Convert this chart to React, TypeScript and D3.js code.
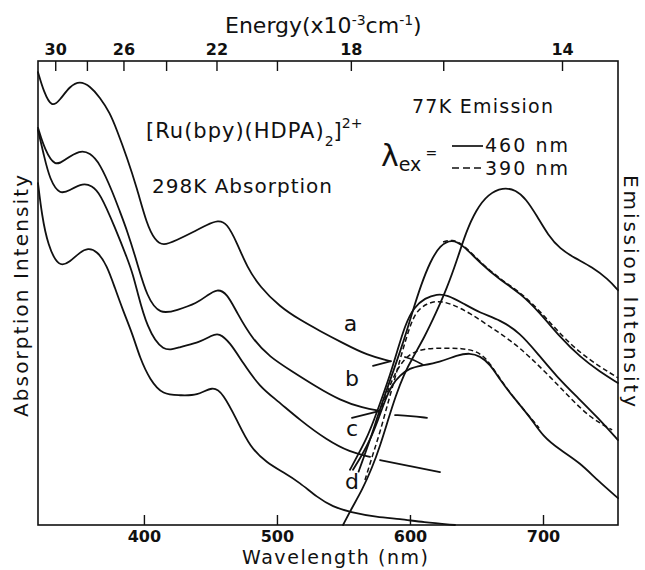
import * as d3 from 'd3';
import { useEffect, useRef } from 'react';

const width = 645;
const height = 570;
const margin = { top: 61, right: 27, bottom: 45, left: 38 };
const ink = '#111';
const fontFamily = '"DejaVu Sans", sans-serif';

const wavelengthTicks = [400, 500, 600, 700];
const energyTicks = [30, 28, 26, 24, 22, 20, 18, 16, 14];
const energyLabels = [30, 26, 22, 18, 14];

// 298 K absorption, [wavelength nm, intensity a.u.]
const absA = [[320, 97.6], [324.4, 93.3], [330.4, 89.9], [336.5, 91.6], [344, 94.6], [351.5, 95.7], [359, 94.6], [366.5, 92.2], [374.1, 88.8], [379.3, 85.1], [386.8, 79.3], [394.4, 72.6], [401.9, 64.7], [407.9, 61.4], [413.9, 60.1], [424.4, 61.4], [436.5, 63.1], [447, 64.7], [455.3, 65.7], [462, 65.1], [469.6, 60.8], [477.1, 55.6], [486.9, 51.3], [501.9, 47.0], [517, 44.2], [532, 41.8], [549.3, 39.2], [567.3, 36.6], [584.6, 35.3]];
const absAHook = [[571.8, 34.3], [585.4, 35.3]];
const absAStub = [[595.9, 36.2], [602.7, 35.6], [609.4, 34.5]];

const absB = [[320, 85.6], [325.2, 80.8], [332.7, 77.2], [340.2, 78.7], [351.5, 80.8], [359, 80.2], [366.5, 78], [376.3, 71.6], [381.6, 67.5], [386.8, 63.6], [394.4, 56.7], [401.9, 49.1], [411.7, 45.3], [424.4, 46.3], [439.5, 47.8], [447.8, 49.6], [454.5, 50.9], [462, 50], [469.6, 45.7], [481.6, 39.9], [494.4, 36.2], [509.4, 33.4], [529.7, 29.7], [547, 26.9], [564.3, 25.2], [577.1, 24.6]];
const absBHook = [[556, 23.1], [577.1, 24.6]];
const absBStub = [[588.4, 23.7], [600, 23.5], [612.4, 23.1]];

const absC = [[320, 85.1], [324.4, 79.7], [328.9, 74.4], [336.5, 71.1], [344, 72.2], [353.8, 73.7], [360.5, 73.1], [366.5, 71.6], [377.8, 64.2], [387.6, 57.1], [391.4, 53.9], [394.4, 50.6], [401.9, 42.5], [413.9, 37.1], [426.7, 38.4], [441.7, 39.4], [450.8, 40.9], [456, 41.4], [464.3, 39.4], [474.1, 34.9], [486.9, 29.7], [499.6, 26.9], [516.9, 22.6], [537.2, 18.3], [554.5, 15.7], [569.6, 14.7]];
const absCStub = [[577.1, 14.0], [599.6, 12.7], [622.2, 11.4]];

const absD = [[320, 73.7], [322.9, 66.8], [327.4, 60.3], [335.7, 55.4], [344, 56.7], [351.5, 58.8], [357.5, 59.7], [364.3, 59.1], [371.8, 56], [377.8, 51.1], [383.8, 46.3], [391.4, 40.9], [396.6, 36], [404.1, 31.3], [413.9, 28], [426.7, 28], [439.5, 27.8], [451.5, 30], [459, 28.4], [469.6, 22.6], [479.3, 16.8], [492.1, 13.4], [504.2, 11.4], [516.9, 9.1], [529.7, 6], [541.7, 3.9], [554.5, 2.8], [574.8, 1.7], [592.1, 1.3], [609.4, 0.6], [633.5, 0]];

// 77 K emission, solid = 460 nm excitation, dashed = 390 nm excitation
const em1Solid = [[549.3, 0], [556, 3.7], [563.6, 7.5], [571.1, 12.3], [577.1, 17.0], [583.1, 22.6], [589.1, 28.0], [595.1, 32.5], [601.9, 36.2], [610.2, 40.3], [619.2, 45.7], [627.5, 51.1], [635, 57.1], [641.7, 63.1], [649.3, 67.9], [658.3, 71.3], [669.5, 72.8], [679.3, 72.2], [686.8, 70.3], [695.1, 66.6], [703.4, 62.5], [712.4, 59.5], [723.7, 57.5], [736.5, 55.6], [748.5, 53], [756, 50.6]];

const em2Solid = [[561, 11.5], [563.6, 13.6], [569.6, 18.3], [575.6, 23.7], [581.6, 28.7], [586.9, 33], [592.1, 37.3], [597.4, 42], [601.9, 46.3], [607.9, 51.7], [614.7, 56.7], [622.2, 60.3], [631.2, 61.6], [639.5, 60.3], [652.3, 56.5], [667.3, 52.8], [682.4, 50], [697.4, 45.7], [712.4, 40.5], [727.5, 36.2], [742.5, 33], [756, 30.6]];
const em2Dash = [[624.5, 61], [631.2, 61.6], [639.5, 60.5], [652.3, 56.7], [667.3, 53], [682.4, 50.2], [697.4, 46.1], [712.4, 41.2], [727.5, 37.1], [742.5, 34.1], [756, 31.7]];

const em3Solid = [[554.5, 11.9], [560.5, 15.1], [566.5, 18.3], [572.6, 22.6], [578.6, 27.4], [584.6, 32.3], [589.9, 37.3], [595.9, 43.1], [602.7, 47], [610.9, 48.9], [620, 49.8], [627.5, 49.6], [639.5, 47.8], [652.3, 45.7], [667.3, 44.2], [682.4, 41.4], [695.1, 37.1], [710.2, 31.9], [725.2, 27.6], [740.3, 23.3], [756, 18.3]];
const em3Dash = [[565.8, 9.7], [568.5, 12.2], [572.6, 16.0], [577.1, 20.0], [581.6, 24.8], [586.9, 30.2], [592.1, 35.6], [597.4, 40.9], [603.4, 45.9], [612.4, 47.8], [620.7, 48.3], [629.7, 47.8], [644.8, 45.7], [659.8, 42.7], [674.9, 39.9], [689.9, 36.2], [705, 31.9], [720, 27.4], [735.1, 23.1], [751.6, 20.5]];

const em4Solid = [[556.8, 11.9], [563.6, 15.1], [569.6, 18.3], [575.6, 22.6], [580.9, 26.9], [586.1, 30.2], [592.1, 32.3], [599.6, 33.8], [607.2, 34.3], [622.2, 35.1], [635, 36.6], [644.8, 37.1], [652.3, 36.4], [659.8, 34.7], [667.3, 31.3], [677.1, 27.6], [689.9, 23.3], [699.7, 19], [712.4, 16.2], [727.5, 13.4], [740.3, 9.7], [756, 5.8]];
const em4Dash = [[576.3, 23.7], [582.4, 28.4], [587.6, 32.3], [593.6, 35.1], [600.4, 37.1], [611.6, 38.1], [625.2, 38.1], [638.7, 38.1], [649.3, 37.5], [656.8, 36], [664.4, 32.8], [674.1, 28.7], [685.4, 24.8], [696.7, 20.9]];

const solidCurves = [absA, absAHook, absAStub, absB, absBHook, absBStub, absC, absCStub, absD, em1Solid, em2Solid, em3Solid, em4Solid];
const dashedCurves = [em2Dash, em3Dash, em4Dash];

const curveLabels = [
  { text: 'a', nm: 555, value: 43.1 },
  { text: 'b', nm: 556, value: 31.3 },
  { text: 'c', nm: 556, value: 20.5 },
  { text: 'd', nm: 556, value: 9.1 },
];

const App = () => {
  const svgRef = useRef<SVGSVGElement | null>(null);

  useEffect(() => {
    if (!svgRef.current) return;
    const svg = d3.select(svgRef.current);
    svg.selectAll('*').remove();

    const x = d3.scaleLinear().domain([320, 756]).range([margin.left, width - margin.right]);
    const y = d3.scaleLinear().domain([0, 100]).range([height - margin.bottom, margin.top]);
    const x0 = margin.left;
    const x1 = width - margin.right;
    const y0 = height - margin.bottom;
    const y1 = margin.top;

    const line = d3
      .line<number[]>()
      .x((d) => x(d[0]))
      .y((d) => y(d[1]))
      .curve(d3.curveBasis);

    // frame
    svg
      .append('rect')
      .attr('x', x0)
      .attr('y', y1)
      .attr('width', x1 - x0)
      .attr('height', y0 - y1)
      .attr('fill', 'none')
      .attr('stroke', ink)
      .attr('stroke-width', 1.6);

    // wavelength axis (bottom)
    svg
      .append('g')
      .selectAll('line')
      .data(wavelengthTicks)
      .join('line')
      .attr('x1', (d) => x(d))
      .attr('x2', (d) => x(d))
      .attr('y1', y0)
      .attr('y2', y0 - 10)
      .attr('stroke', ink)
      .attr('stroke-width', 1.4);

    svg
      .append('g')
      .selectAll('text')
      .data(wavelengthTicks)
      .join('text')
      .attr('x', (d) => x(d))
      .attr('y', 542)
      .attr('text-anchor', 'middle')
      .style('font-family', fontFamily)
      .style('font-weight', 'bold')
      .style('font-size', '16px')
      .attr('fill', ink)
      .text((d) => d);

    svg
      .append('text')
      .attr('x', 335)
      .attr('y', 564)
      .attr('text-anchor', 'middle')
      .style('font-family', fontFamily)
      .style('font-size', '19px')
      .attr('fill', ink)
      .attr('textLength', 186)
      .text('Wavelength (nm)');

    // energy axis (top), 10^3 cm^-1 -> nm
    const toNm = (e: number) => 1e4 / e;
    svg
      .append('g')
      .selectAll('line')
      .data(energyTicks)
      .join('line')
      .attr('x1', (d) => x(toNm(d)))
      .attr('x2', (d) => x(toNm(d)))
      .attr('y1', y1)
      .attr('y2', y1 + 10)
      .attr('stroke', ink)
      .attr('stroke-width', 1.4);

    svg
      .append('g')
      .selectAll('text')
      .data(energyLabels)
      .join('text')
      .attr('x', (d) => x(toNm(d)))
      .attr('y', 55)
      .attr('text-anchor', 'middle')
      .style('font-family', fontFamily)
      .style('font-weight', 'bold')
      .style('font-size', '16px')
      .attr('fill', ink)
      .text((d) => d);

    const energyTitle = svg
      .append('text')
      .attr('x', 225)
      .attr('y', 33)
      .style('font-family', fontFamily)
      .style('font-size', '22px')
      .attr('fill', ink);
    energyTitle.append('tspan').text('Energy(x10');
    energyTitle.append('tspan').attr('dy', -8).style('font-size', '14px').text('-3');
    energyTitle.append('tspan').attr('dy', 8).text('cm');
    energyTitle.append('tspan').attr('dy', -8).style('font-size', '14px').text('-1');
    energyTitle.append('tspan').attr('dy', 8).text(')');

    // side titles
    svg
      .append('text')
      .attr('transform', 'translate(28, 296) rotate(-90)')
      .attr('text-anchor', 'middle')
      .style('font-family', fontFamily)
      .style('font-size', '20px')
      .attr('fill', ink)
      .attr('textLength', 242)
      .text('Absorption Intensity');

    svg
      .append('text')
      .attr('transform', 'translate(624, 291) rotate(90)')
      .attr('text-anchor', 'middle')
      .style('font-family', fontFamily)
      .style('font-size', '20px')
      .attr('fill', ink)
      .attr('textLength', 232)
      .text('Emission Intensity');

    // curves
    svg
      .append('g')
      .selectAll('path')
      .data(solidCurves)
      .join('path')
      .attr('d', line)
      .attr('fill', 'none')
      .attr('stroke', ink)
      .attr('stroke-width', 1.8)
      .attr('stroke-linecap', 'round');

    svg
      .append('g')
      .selectAll('path')
      .data(dashedCurves)
      .join('path')
      .attr('d', line)
      .attr('fill', 'none')
      .attr('stroke', ink)
      .attr('stroke-width', 1.5)
      .attr('stroke-dasharray', '5,3');

    svg
      .append('g')
      .selectAll('text')
      .data(curveLabels)
      .join('text')
      .attr('x', (d) => x(d.nm))
      .attr('y', (d) => y(d.value))
      .attr('text-anchor', 'middle')
      .attr('dominant-baseline', 'middle')
      .style('font-family', fontFamily)
      .style('font-size', '22px')
      .attr('fill', ink)
      .text((d) => d.text);

    // annotations
    const formula = svg
      .append('text')
      .attr('x', 146)
      .attr('y', 138)
      .style('font-family', fontFamily)
      .style('font-size', '21px')
      .attr('fill', ink);
    formula.append('tspan').style('letter-spacing', '1px').text('[Ru(bpy)(HDPA)');
    formula.append('tspan').attr('dy', 8).style('font-size', '14px').text('2');
    formula.append('tspan').attr('dy', -8).text(']');
    formula.append('tspan').attr('dy', -10).style('font-size', '14px').text('2+');

    svg
      .append('text')
      .attr('x', 152)
      .attr('y', 193)
      .style('font-family', fontFamily)
      .style('font-size', '20px')
      .attr('fill', ink)
      .attr('textLength', 180)
      .text('298K Absorption');

    svg
      .append('text')
      .attr('x', 412)
      .attr('y', 113)
      .style('font-family', fontFamily)
      .style('font-size', '19px')
      .attr('fill', ink)
      .attr('textLength', 141)
      .text('77K Emission');

    const lambda = svg
      .append('text')
      .attr('x', 381)
      .attr('y', 166)
      .style('font-family', fontFamily)
      .style('font-size', '30px')
      .attr('fill', ink);
    lambda.append('tspan').text('λ');
    lambda.append('tspan').attr('dy', 5).style('font-size', '19px').text('ex');
    lambda.append('tspan').attr('dx', 4).attr('dy', -13).style('font-size', '14px').text('=');

    svg
      .append('line')
      .attr('x1', 452)
      .attr('x2', 483)
      .attr('y1', 146)
      .attr('y2', 146)
      .attr('stroke', ink)
      .attr('stroke-width', 1.7);
    svg
      .append('line')
      .attr('x1', 452)
      .attr('x2', 483)
      .attr('y1', 168)
      .attr('y2', 168)
      .attr('stroke', ink)
      .attr('stroke-width', 1.7)
      .attr('stroke-dasharray', '7,4');

    svg
      .append('text')
      .attr('x', 485)
      .attr('y', 152)
      .style('font-family', fontFamily)
      .style('font-size', '19px')
      .attr('fill', ink)
      .attr('textLength', 83)
      .text('460 nm');
    svg
      .append('text')
      .attr('x', 485)
      .attr('y', 175)
      .style('font-family', fontFamily)
      .style('font-size', '19px')
      .attr('fill', ink)
      .attr('textLength', 83)
      .text('390 nm');
  }, []);

  return (
    <svg
      ref={svgRef}
      width={width}
      height={height}
      style={{ position: 'absolute', left: 0, top: 0, background: '#fff' }}
    />
  );
};

export default App;
